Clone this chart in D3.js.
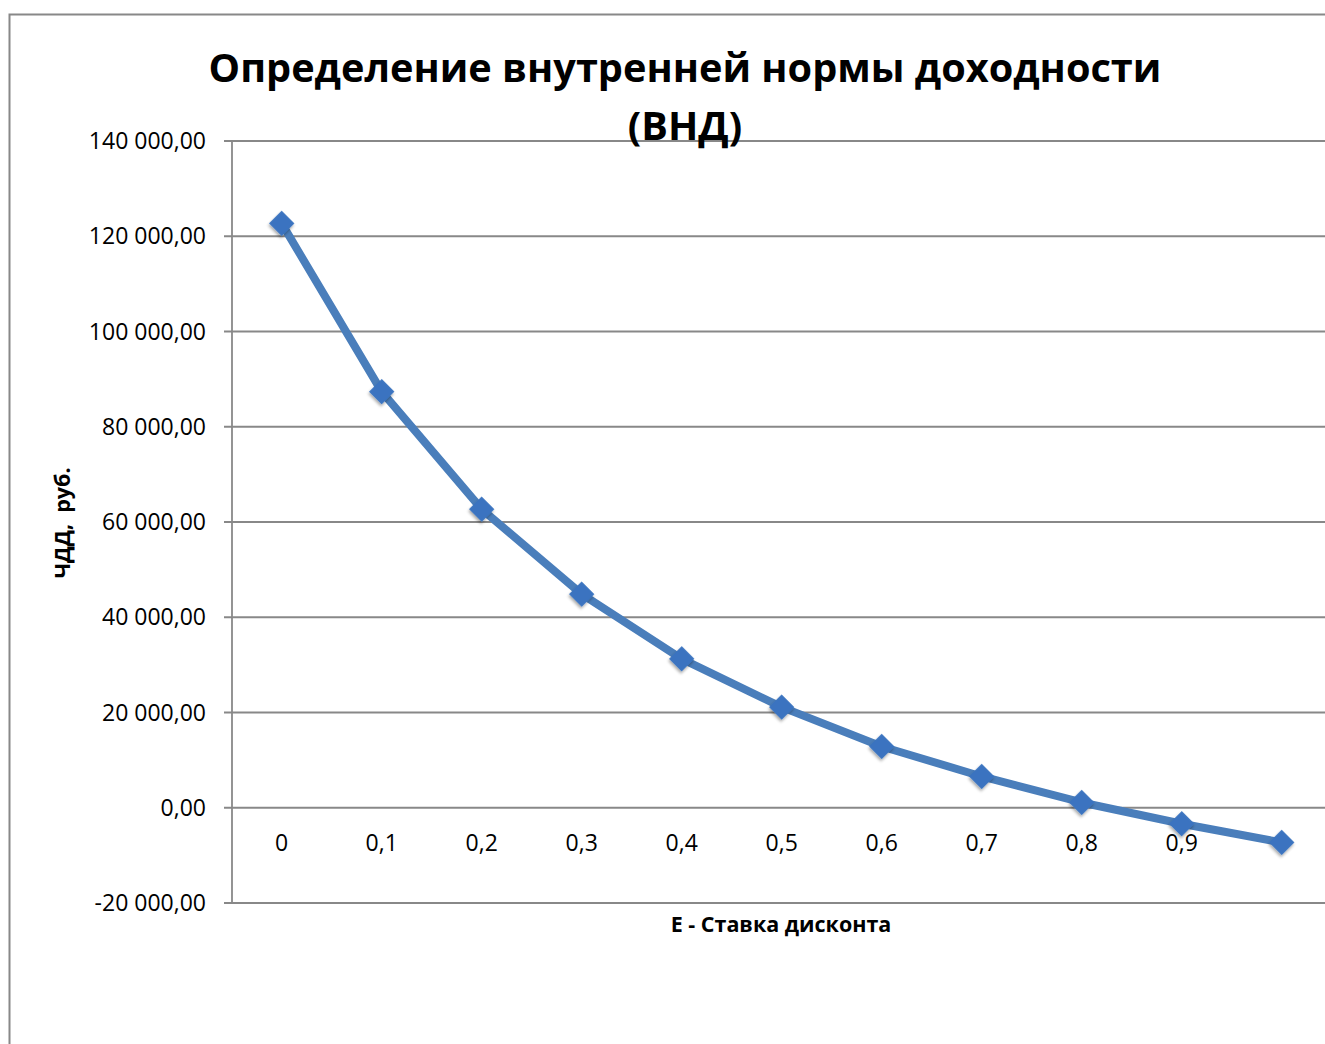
<!DOCTYPE html>
<html>
<head>
<meta charset="utf-8">
<script src="https://cdn.jsdelivr.net/npm/d3@7"></script>
<style>
  body { margin: 0; background: #fff; }
  text { font-family: "Open Sans", "Noto Sans", sans-serif; fill: #000; }
</style>
</head>
<body>
<script>
// ставка дисконта и ЧДД
var rates = ["0", "0,1", "0,2", "0,3", "0,4", "0,5", "0,6", "0,7", "0,8", "0,9", "1"];
var npv = [122700, 87370, 62690, 44850, 31270, 21130, 12870, 6570, 1110, -3360, -7280];
var yTicks = [-20000, 0, 20000, 40000, 60000, 80000, 100000, 120000, 140000];

var titleLines = ["Определение внутренней нормы доходности", "(ВНД)"];
var xTitle = "Е - Ставка дисконта";
var yTitle = "ЧДД,  руб.";

var width = 1325, height = 1044;

var svg = d3.select("body").append("svg")
    .attr("width", width)
    .attr("height", height);

var defs = svg.append("defs");
var f = defs.append("filter").attr("id", "shadow")
    .attr("x", "-50%").attr("y", "-50%").attr("width", "200%").attr("height", "200%");
f.append("feDropShadow")
    .attr("dx", 1).attr("dy", 2).attr("stdDeviation", 1.5)
    .attr("flood-color", "#000").attr("flood-opacity", 0.35);

// рамка диаграммы
svg.append("rect")
    .attr("x", 9.5).attr("y", 14.5)
    .attr("width", 1400).attr("height", 1100)
    .attr("fill", "none")
    .attr("stroke", "#888")
    .attr("stroke-width", 2);

var x = d3.scaleBand()
    .domain(rates)
    .range([231.7, 1331.7]);

var y = d3.scaleLinear()
    .domain([-20000, 140000])
    .range([903, 141]);

var ru = d3.formatLocale({decimal: ",", thousands: " ", grouping: [3], currency: ["", ""], minus: "-"});
var fmt = ru.format(",.2f");

// сетка
svg.append("g").selectAll("line")
    .data(yTicks)
    .enter()
    .append("line")
    .attr("x1", 224)
    .attr("x2", width)
    .attr("y1", function(d){ return y(d) })
    .attr("y2", function(d){ return y(d) })
    .attr("stroke", "#888")
    .attr("stroke-width", 1.8);

// ось Y
svg.append("line")
    .attr("x1", 232).attr("x2", 232)
    .attr("y1", y(140000)).attr("y2", y(-20000))
    .attr("stroke", "#888")
    .attr("stroke-width", 1.8);

svg.append("g").selectAll("text")
    .data(yTicks)
    .enter()
    .append("text")
    .attr("x", 206)
    .attr("y", function(d){ return y(d) })
    .attr("dy", "0.35em")
    .attr("text-anchor", "end")
    .style("font-size", "23px")
    .text(function(d){ return fmt(d) });

// подписи категорий
svg.append("g").selectAll("text")
    .data(rates)
    .enter()
    .append("text")
    .attr("x", function(d){ return x(d) + x.bandwidth() / 2 })
    .attr("y", y(0) + 35)
    .attr("dy", "0.35em")
    .attr("text-anchor", "middle")
    .style("font-size", "23px")
    .text(function(d){ return d });

// линия
var line = d3.line()
    .x(function(d, i){ return x(rates[i]) + x.bandwidth() / 2 })
    .y(function(d){ return y(d) });

svg.append("path")
    .datum(npv)
    .attr("d", line)
    .attr("fill", "none")
    .attr("stroke", "#4a7ebb")
    .attr("stroke-width", 8)
    .attr("stroke-linejoin", "round");

// маркеры
svg.append("g").selectAll("path")
    .data(npv)
    .enter()
    .append("path")
    .attr("d", d3.symbol().type(d3.symbolSquare).size(320))
    .attr("transform", function(d, i){
        return "translate(" + (x(rates[i]) + x.bandwidth() / 2) + "," + y(d) + ") rotate(45)";
    })
    .attr("fill", "#3a73c0")
    .attr("filter", "url(#shadow)");

// заголовки
svg.append("g").selectAll("text")
    .data(titleLines)
    .enter()
    .append("text")
    .attr("x", 685)
    .attr("y", function(d, i){ return 82 + i * 58 })
    .attr("text-anchor", "middle")
    .style("font-size", "39.7px")
    .style("font-weight", "bold")
    .text(function(d){ return d });

svg.append("text")
    .attr("x", 781)
    .attr("y", 932)
    .attr("text-anchor", "middle")
    .style("font-size", "21.5px")
    .style("font-weight", "bold")
    .text(xTitle);

svg.append("text")
    .attr("transform", "translate(70,523) rotate(-90)")
    .attr("text-anchor", "middle")
    .style("font-size", "21.5px")
    .style("font-weight", "bold")
    .style("white-space", "pre")
    .text(yTitle);
</script>
</body>
</html>
